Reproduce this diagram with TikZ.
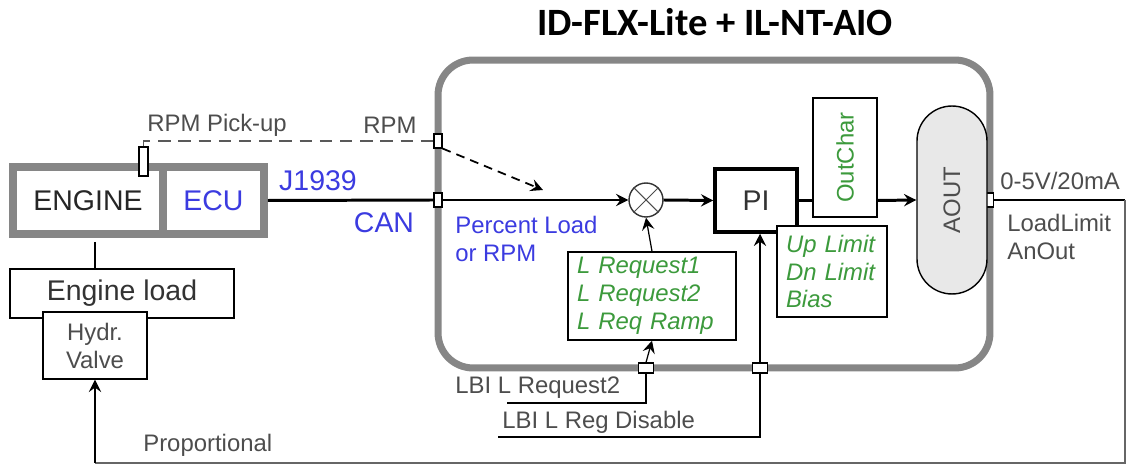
\documentclass[tikz,border=0pt]{standalone}
\usepackage{fontspec}
\setmainfont{Liberation Sans}
\newfontfamily\titlefont{Carlito}
\usetikzlibrary{positioning,arrows.meta,calc,shapes.misc}

\definecolor{framegray}{HTML}{868686}
\definecolor{labelgray}{HTML}{4D4D4D}
\definecolor{canblue}{HTML}{3B3BE0}
\definecolor{pargreen}{HTML}{3C9A3C}

\newcommand{\smalltxt}{\fontsize{13.6}{15.9}\selectfont}
\newcommand{\bigtxt}{\fontsize{16.2}{19}\selectfont}

\tikzset{
  sig/.style={line width=1.7pt},
  thinsig/.style={line width=0.7pt},
  tip/.style={-{Stealth[length=7pt,width=7pt,inset=2.5pt]}},
  unit/.style={draw=framegray, line width=4.5pt, fill=white, inner sep=0pt, minimum height=1.34cm},
  blk/.style={draw, line width=0.8pt, fill=white, inner sep=0pt},
  port/.style={draw, line width=0.6pt, fill=white, inner sep=0pt},
  lbl/.style={text=labelgray, font=\smalltxt, inner sep=0pt},
  parbox/.style={blk, text=pargreen, font=\smalltxt\itshape, align=left, inner xsep=0.18cm},
}

\begin{document}
\begin{tikzpicture}[x=0.02cm,y=-0.02cm]
\useasboundingbox (0,0) rectangle (1126,465);

% title and module frame
\node[font=\titlefont\bfseries\fontsize{22}{26}\selectfont] (title) at (715,22) {ID-FLX-Lite + IL-NT-AIO};
\node[draw=framegray, line width=4pt, rounded corners=0.7cm, minimum width=11.04cm, minimum height=6.16cm] (aio) at (714,214) {};

% engine side
\node[unit, minimum width=3cm, font=\bigtxt, text=black!85] (engine) at (88,200.5) {ENGINE};
\node[unit, minimum width=2.02cm, font=\bigtxt, text=canblue] (ecu) at (213.5,200.5) {ECU};
\node[port, minimum width=0.18cm, minimum height=0.58cm] (pickup) at (143.5,161.5) {};
\node[blk, minimum width=4.48cm, minimum height=0.98cm, font=\bigtxt, text=black!80] (engload) at (122,293.5) {Engine load};
\node[blk, minimum width=2.08cm, minimum height=1.34cm, font=\smalltxt, text=labelgray, align=center] (valve) at (95,345.5) {Hydr.\\Valve};

% ports
\node[port, minimum width=0.16cm, minimum height=0.28cm] (rpmport) at (438,141) {};
\node[port, minimum width=0.16cm, minimum height=0.28cm] (canport) at (438,200) {};
\node[port, minimum width=0.14cm, minimum height=0.28cm] (outport) at (990,200) {};
\node[port, minimum width=0.3cm, minimum height=0.2cm] (lreqport) at (646,368) {};
\node[port, minimum width=0.3cm, minimum height=0.2cm] (disport) at (760,368) {};

% controller blocks
\node[circle, draw=black!80, line width=0.8pt, fill=white, minimum size=0.68cm, inner sep=0pt] (sum) at (646,200) {};
\draw[line width=0.6pt, black!70] (sum.north east) -- (sum.south west) (sum.north west) -- (sum.south east);
\node[blk, line width=2pt, minimum width=1.64cm, minimum height=1.26cm, font=\bigtxt, text=black!80] (pi) at (756,200.5) {PI};
\node[blk, rotate=90, minimum width=2.38cm, minimum height=1.28cm, font=\smalltxt, text=pargreen] (outchar) at (845,157.5) {OutChar};
\node[rounded rectangle, draw, line width=0.8pt, fill=black!9, rotate=90, minimum width=3.76cm, minimum height=1.4cm, inner sep=0pt, font=\smalltxt, text=labelgray] (aout) at (952,200) {AOUT};
\node[parbox, minimum width=3.36cm, minimum height=1.76cm, text width=3cm] (lreq) at (652,296) {L Request1\\L Request2\\L Req Ramp};
\node[parbox, minimum width=2.2cm, minimum height=1.82cm, text width=1.84cm] (lim) at (832,271.5) {Up Limit\\Dn Limit\\Bias};

\coordinate (rpmtip) at (543,190);
\coordinate (outend) at (1125,200);
\coordinate (corner) at (95,463);
\coordinate (lbi1end) at (507,403);
\coordinate (lbi2end) at (498,437);

% connectors
\draw[line width=0.7pt, black!65, dash pattern=on 7pt off 4.5pt] (pickup.north) |- (rpmport.west);
\draw[line width=1pt, dash pattern=on 5pt off 3.5pt, tip] (rpmport.south east) -- (rpmtip);
\draw[sig, shorten <=2.2pt] (engine.south -| valve) -- (engload.north -| valve);
\draw[sig] (ecu.east) -- (canport.west);
\draw[sig, tip] (canport.east) -- (sum.west);
\draw[sig, tip] (sum.east) -- (pi.west);
\draw[sig] (pi.east) -- (pi.east -| outchar.north);
\draw[sig, tip] (pi.east -| outchar.south) -- (aout.north);
\draw[sig] (outport.east) -- (outend);
\draw[line width=0.6pt, black!60] (outend) |- (corner);
\draw[sig, tip] (corner) -- (valve.south);
\draw[thinsig, tip] (lreq.north) -- (sum.south);
\draw[thinsig, tip] (lreqport.north) -- (lreq.south);
\draw[thinsig] (lreqport.south) |- (lbi1end);
\draw[thinsig, tip] (disport.north) -- (disport.north |- pi.south);
\draw[thinsig] (disport.south) |- (lbi2end);

% labels
\node[lbl, anchor=west] (pickuplbl) at (147,125) {RPM Pick-up};
\node[lbl, anchor=west] (rpmlbl) at (363,125) {RPM};
\node[font=\bigtxt, text=canblue] (j1939) at (318,181) {J1939};
\node[font=\bigtxt, text=canblue] (canlbl) at (384,223) {CAN};
\node[anchor=west, font=\smalltxt, text=canblue, align=left, inner sep=0pt] (pctlbl) at (455,239) {Percent Load\\or RPM};
\node[lbl, anchor=west] (rangelbl) at (1000,181) {0-5V/20mA};
\node[lbl, anchor=west, align=left] (anoutlbl) at (1007,237) {LoadLimit\\AnOut};
\node[lbl, anchor=west] (proplbl) at (143,445) {Proportional};
\node[lbl, anchor=west] (lbi1lbl) at (455,388) {LBI L Request2};
\node[lbl, anchor=west] (lbi2lbl) at (502,422) {LBI L Reg Disable};
\end{tikzpicture}
\end{document}
